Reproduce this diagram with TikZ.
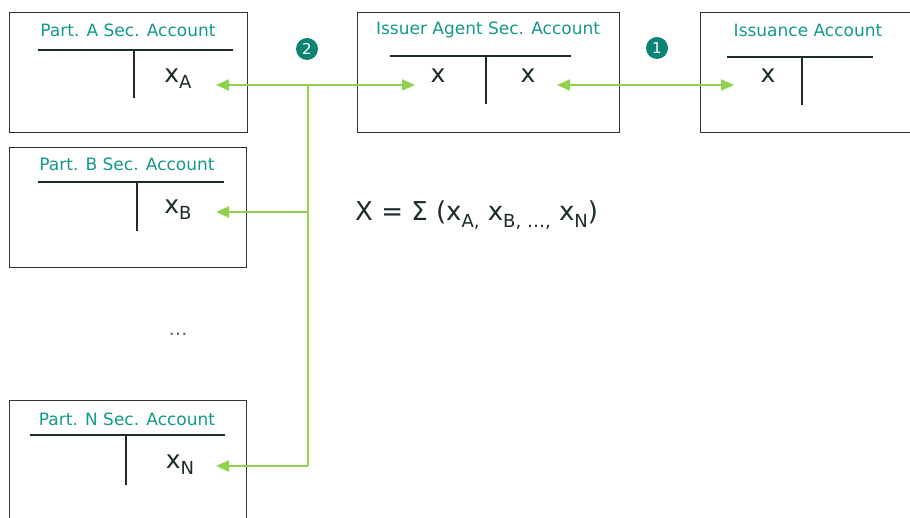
\documentclass[tikz,border=0pt]{standalone}
\usepackage{fontspec}
\setmainfont{DejaVu Sans}
\usetikzlibrary{arrows.meta}
\definecolor{teal1}{HTML}{12998A}
\definecolor{teal2}{HTML}{0B8474}
\definecolor{grn}{HTML}{92D050}
\definecolor{dark}{HTML}{1C2B2B}
\newcommand{\sbx}[1]{\raisebox{-0.45ex}{\fontsize{18}{18}\selectfont #1}}
\begin{document}
\begin{tikzpicture}[x=1pt,y=-1pt,
  box/.style={draw=black!80, line width=0.9pt, minimum height=120pt, inner sep=0pt},
  ttl/.style={text=teal1, font=\fontsize{17}{19}\selectfont, inner sep=0pt},
  tline/.style={draw=dark, line width=2.4pt},
  val/.style={text=dark, font=\fontsize{25}{27}\selectfont, inner sep=0pt},
  garrow/.style={draw=grn, line width=2.2pt, -{Triangle[length=13pt,width=11pt]}},
  gdouble/.style={draw=grn, line width=2.2pt, {Triangle[length=13pt,width=11pt]}-{Triangle[length=13pt,width=11pt]}},
  gline/.style={draw=grn, line width=2.2pt},
  badge/.style={circle, fill=teal2, text=white, inner sep=0pt, minimum size=22pt, font=\fontsize{15}{15}\selectfont}
]
\useasboundingbox (0,0) rectangle (910,518);
% boxes
\node[box, minimum width=238pt] (bA) at (128,72) {};
\node[box, minimum width=262pt] (bI) at (488,72) {};
\node[box, minimum width=212pt] (bS) at (806,72) {};
\node[box, minimum width=237pt] (bB) at (127.5,207) {};
\node[box, minimum width=237pt] (bN) at (127.5,460) {};
% titles
\node[ttl] (tA) at (128,30) {Part. A Sec. Account};
\node[ttl] (tI) at (488,30) {Issuer Agent Sec. Account};
\node[ttl] (tS) at (808,30) {Issuance Account};
\node[ttl] (tB) at (127,164) {Part. B Sec. Account};
\node[ttl] (tN) at (127,419) {Part. N Sec. Account};
% T accounts
\draw[tline] (38,50) -- (233,50) (134,50) -- (134,98);
\draw[tline] (390,56) -- (571,56) (486,56) -- (486,104);
\draw[tline] (727,57) -- (873,57) (802,57) -- (802,105);
\draw[tline] (38,182) -- (224,182) (137,182) -- (137,231);
\draw[tline] (30,435) -- (225,435) (126,435) -- (126,485);
% values
\node[val] (xA) at (178,79) {x\sbx{A}};
\node[val] (xIl) at (438,76) {x};
\node[val] (xIr) at (528,76) {x};
\node[val] (xS) at (768,76) {x};
\node[val] (xB) at (178,210) {x\sbx{B}};
\node[val] (xN) at (180,465) {x\sbx{N}};
\node[text=black!60, font=\fontsize{19}{19}\selectfont] (dots) at (178,334) {…};
\node[val, font=\fontsize{26}{28}\selectfont, anchor=west] (sum) at (355,215) {X = Σ (x\sbx{A,} x\sbx{B, …,} x\sbx{N})};
% badges
\node[badge] (n2) at (307,49) {2};
\node[badge] (n1) at (657,48) {1};
% connectors
\coordinate (J1) at (308,85);
\coordinate (J2) at (308,212);
\coordinate (J3) at (308,466);
\coordinate (pA) at (216,85);
\coordinate (pI) at (415,85);
\coordinate (pB) at (216,212);
\coordinate (pN) at (216,466);
\coordinate (pIr) at (557,85);
\coordinate (pS) at (734,85);
\draw[gline] (J1) -- (J3);
\draw[garrow] (J1) -- (pA);
\draw[garrow] (J1) -- (pI);
\draw[garrow] (J2) -- (pB);
\draw[garrow] (J3) -- (pN);
\draw[gdouble] (pIr) -- (pS);
\end{tikzpicture}
\end{document}
